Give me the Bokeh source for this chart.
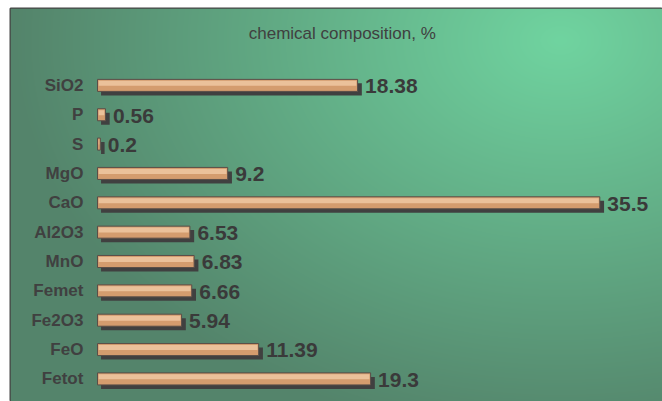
import numpy as np
from bokeh.plotting import figure
from bokeh.models import ColumnDataSource, Range1d, Label
from bokeh.transform import dodge
from bokeh.core.properties import value
from bokeh.embed import file_html
from bokeh.resources import INLINE

categories = ["SiO2", "P", "S", "MgO", "CaO", "Al2O3", "MnO", "Femet", "Fe2O3", "FeO", "Fetot"]
values = [18.38, 0.56, 0.2, 9.2, 35.5, 6.53, 6.83, 6.66, 5.94, 11.39, 19.3]
title_text = "chemical composition, %"

n = len(categories)
ypos = [n - 1 - i for i in range(n)]
src = ColumnDataSource(dict(cat=categories, val=values, y=ypos,
                            lbl=[str(v) for v in values]))

W, H = 662, 401
left_b, top_b = 10, 8
x0, x1 = -6.15, 39.93
y0, y1 = -0.77, 12.62

p = figure(width=W, height=H, x_range=Range1d(x0, x1), y_range=Range1d(y0, y1),
           output_backend="svg", toolbar_location=None,
           x_axis_location=None, y_axis_location=None,
           min_border_left=left_b, min_border_top=top_b,
           min_border_right=0, min_border_bottom=0)
p.grid.visible = False
p.outline_line_color = "#444444"
p.outline_line_width = 2
p.background_fill_color = "#5a9a78"
p.border_fill_color = "white"

# background gradient (style only)
fw, fh = W - left_b, H - top_b
X = np.arange(fw)[None, :] + 0.5 + left_b
Y = (H - 0.5 - np.arange(fh))[:, None]
t = np.sqrt(((X - 560) / 550.0) ** 2 + ((Y - 40) / 400.0) ** 2)
t = np.clip(t, 0, 1)
light = np.array([112, 212, 160], dtype=float)
dark = np.array([84, 132, 107], dtype=float)
img = np.empty((fh, fw), dtype=np.uint32)
view = img.view(dtype=np.uint8).reshape((fh, fw, 4))
for k in range(3):
    view[:, :, k] = (light[k] + (dark[k] - light[k]) * t).astype(np.uint8)
view[:, :, 3] = 255
p.image_rgba(image=[img], x=x0, y=y0, dw=x1 - x0, dh=y1 - y0)

bh = 0.41
# shadows
p.hbar(y=dodge('y', -0.136), left=0.25, right=dodge('val', 0.3), height=bh,
       fill_color="#404040", line_color=None, source=src)
# bars
p.hbar(y='y', left=0, right='val', height=bh, fill_color="#d49c6e",
       line_color="#5a4e48", line_width=1, source=src)
p.hbar(y=dodge('y', 0.07), left=0.08, right=dodge('val', -0.08), height=0.17,
       fill_color="#ecc39c", fill_alpha=0.95, line_color=None, source=src)

# category labels
p.text(x=-1.0, y='y', text='cat', text_align='right', text_baseline='middle',
       text_font=value("Liberation Sans"), text_font_style='bold',
       text_font_size='17px', text_color='#404040', source=src)
# value labels
p.text(x=dodge('val', 0.53), y=dodge('y', -0.03), text='lbl', text_align='left',
       text_baseline='middle', text_font=value("Liberation Sans"),
       text_font_style='bold', text_font_size='21px', text_color='#3a3a3a', source=src)

p.add_layout(Label(x=17.3, y=11.77, text=title_text, text_align='center',
                   text_baseline='middle', text_font='Liberation Sans',
                   text_font_size='17px', text_color='#404040'))

open("out.html", "w").write(file_html(p, INLINE))
